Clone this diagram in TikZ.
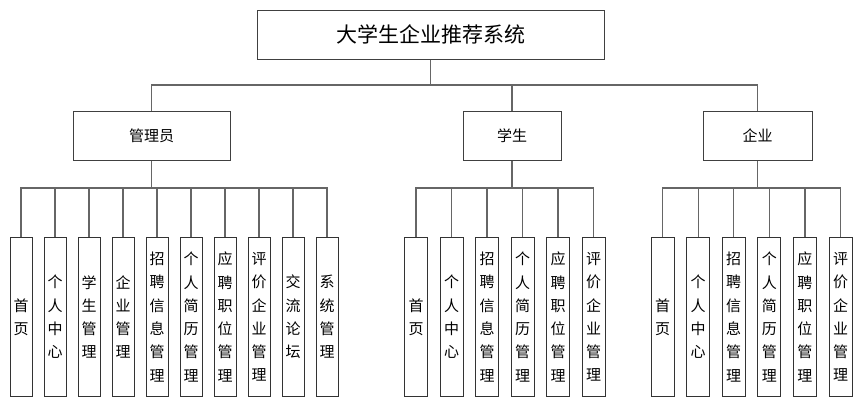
\documentclass[tikz,border=0pt]{standalone}
\usepackage{fontspec}
\newfontfamily\cjk{Noto Sans CJK SC}
\usepackage{tikz}
\usetikzlibrary{positioning}
\usepackage{xcolor}

\begin{document}
\begin{tikzpicture}[x=1pt, y=-1pt,
% styles
topnode/.style={rectangle, draw=black!75, line width=1pt, minimum width=347pt, minimum height=49pt, inner sep=0pt, font=\cjk\fontsize{21}{25}\selectfont},
rolenode/.style={rectangle, draw=black!75, line width=1pt, minimum height=49pt, inner sep=0pt, font=\cjk\fontsize{15}{18}\selectfont},
leafnode/.style={rectangle, draw=black!80, line width=1pt, minimum width=22pt, minimum height=159pt, inner sep=0pt, align=center, anchor=north, font=\cjk\fontsize{15}{23.3}\selectfont},
link/.style={draw=black!60, line width=1.2pt},
]
\useasboundingbox (0,0) rectangle (863,410);

% Nodes: top and roles
\node[topnode] (sys) at (430.5,34.5) {大学生企业推荐系统};
\node[rolenode, minimum width=157pt] (adm) at (151.5,135.5) {管理员};
\node[rolenode, minimum width=98pt]  (stu) at (512,135.5)   {学生};
\node[rolenode, minimum width=109pt] (ent) at (757.5,135.5) {企业};

\coordinate (bus)  at (432,85);
\coordinate (sbus) at (0,188);

% Nodes: 管理员
\node[leafnode] (a1) at (21,237) {首\\页};
\node[leafnode] (a2)  [right=11pt of a1] {个\\人\\中\\心};
\node[leafnode] (a3)  [right=11pt of a2] {学\\生\\管\\理};
\node[leafnode] (a4)  [right=11pt of a3] {企\\业\\管\\理};
\node[leafnode] (a5)  [right=11pt of a4] {招\\聘\\信\\息\\管\\理};
\node[leafnode] (a6)  [right=11pt of a5] {个\\人\\简\\历\\管\\理};
\node[leafnode] (a7)  [right=11pt of a6] {应\\聘\\职\\位\\管\\理};
\node[leafnode] (a8)  [right=11pt of a7] {评\\价\\企\\业\\管\\理};
\node[leafnode] (a9)  [right=11pt of a8] {交\\流\\论\\坛};
\node[leafnode] (a10) [right=11pt of a9] {系\\统\\管\\理};

% Nodes: 学生
\node[leafnode, minimum width=23pt] (s1) at (416,237) {首\\页};
\node[leafnode, minimum width=23pt] (s2) [right=11.5pt of s1] {个\\人\\中\\心};
\node[leafnode, minimum width=23pt] (s3) [right=11.5pt of s2] {招\\聘\\信\\息\\管\\理};
\node[leafnode, minimum width=23pt] (s4) [right=11.5pt of s3] {个\\人\\简\\历\\管\\理};
\node[leafnode, minimum width=23pt] (s5) [right=11.5pt of s4] {应\\聘\\职\\位\\管\\理};
\node[leafnode, minimum width=23pt] (s6) [right=11.5pt of s5] {评\\价\\企\\业\\管\\理};

% Nodes: 企业
\node[leafnode, minimum width=23pt] (e1) at (662.5,237) {首\\页};
\node[leafnode, minimum width=23pt] (e2) [right=11.6pt of e1] {个\\人\\中\\心};
\node[leafnode, minimum width=23pt] (e3) [right=11.6pt of e2] {招\\聘\\信\\息\\管\\理};
\node[leafnode, minimum width=23pt] (e4) [right=11.6pt of e3] {个\\人\\简\\历\\管\\理};
\node[leafnode, minimum width=23pt] (e5) [right=11.6pt of e4] {应\\聘\\职\\位\\管\\理};
\node[leafnode, minimum width=23pt] (e6) [right=11.6pt of e5] {评\\价\\企\\业\\管\\理};

% Lines: top level
\draw[link] (sys.south) -- (sys.south |- bus);
\draw[link] (adm.north) |- (ent.north |- bus) -- (ent.north);
\draw[link] (stu.north) -- (stu.north |- bus);

% Lines: 管理员
\draw[link] (adm.south) -- (adm.south |- sbus);
\draw[link] (a1.north) |- (a10.north |- sbus) -- (a10.north);
\draw[link] (a2.north) -- (a2.north |- sbus);
\draw[link] (a3.north) -- (a3.north |- sbus);
\draw[link] (a4.north) -- (a4.north |- sbus);
\draw[link] (a5.north) -- (a5.north |- sbus);
\draw[link] (a6.north) -- (a6.north |- sbus);
\draw[link] (a7.north) -- (a7.north |- sbus);
\draw[link] (a8.north) -- (a8.north |- sbus);
\draw[link] (a9.north) -- (a9.north |- sbus);

% Lines: 学生
\draw[link] (stu.south) -- (stu.south |- sbus);
\draw[link] (s1.north) |- (s6.north |- sbus) -- (s6.north);
\draw[link] (s2.north) -- (s2.north |- sbus);
\draw[link] (s3.north) -- (s3.north |- sbus);
\draw[link] (s4.north) -- (s4.north |- sbus);
\draw[link] (s5.north) -- (s5.north |- sbus);

% Lines: 企业
\draw[link] (ent.south) -- (ent.south |- sbus);
\draw[link] (e1.north) |- (e6.north |- sbus) -- (e6.north);
\draw[link] (e2.north) -- (e2.north |- sbus);
\draw[link] (e3.north) -- (e3.north |- sbus);
\draw[link] (e4.north) -- (e4.north |- sbus);
\draw[link] (e5.north) -- (e5.north |- sbus);

\end{tikzpicture}
\end{document}
